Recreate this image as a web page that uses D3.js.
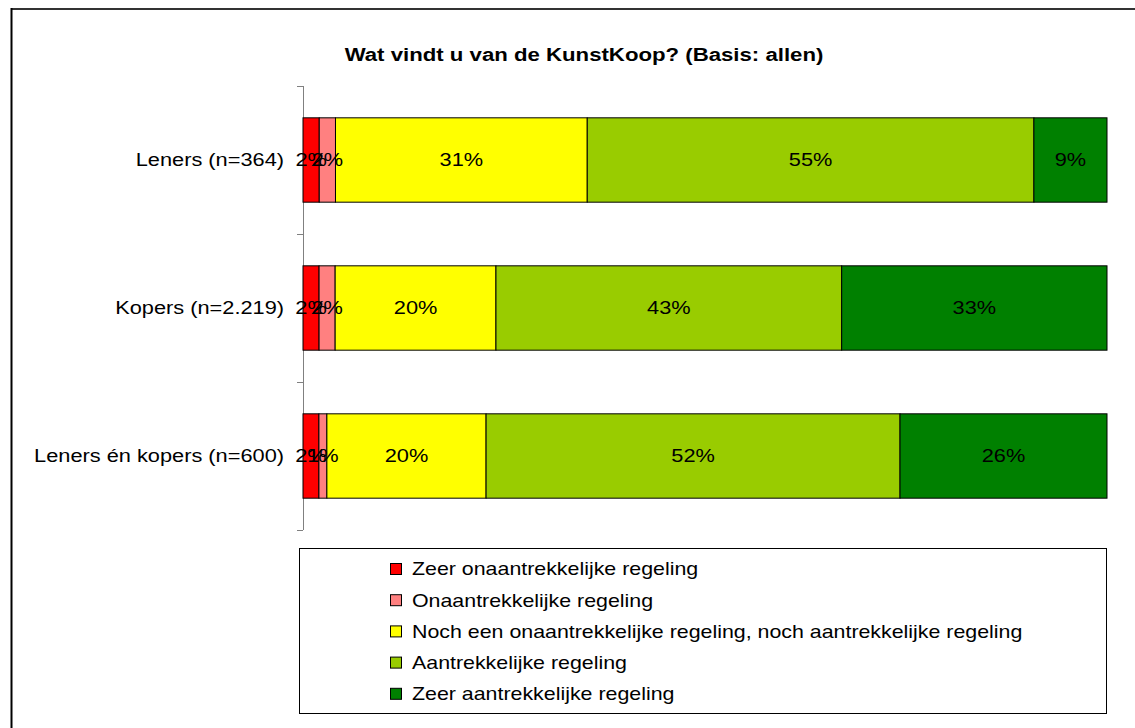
<!DOCTYPE html>
<html>
<head>
<meta charset="utf-8">
<script src="https://cdn.jsdelivr.net/npm/d3@7"></script>
<style>
  html, body { margin: 0; padding: 0; background: #fff; }
  svg { display: block; font-family: "Liberation Sans", Arial, sans-serif; }
</style>
</head>
<body>
<svg id="chart" width="1135" height="728"></svg>
<script>
const title = "Wat vindt u van de KunstKoop? (Basis: allen)";
const categories = ["Leners (n=364)", "Kopers (n=2.219)", "Leners én kopers (n=600)"];
const seriesNames = [
  "Zeer onaantrekkelijke regeling",
  "Onaantrekkelijke regeling",
  "Noch een onaantrekkelijke regeling, noch aantrekkelijke regeling",
  "Aantrekkelijke regeling",
  "Zeer aantrekkelijke regeling"
];
const seriesColors = ["#ff0000", "#ff8080", "#ffff00", "#99cc00", "#008000"];
const zeerOnaantrekkelijk = [2, 2, 2];
const onaantrekkelijk = [2, 2, 1];
const noch = [31, 20, 20];
const aantrekkelijk = [55, 43, 52];
const zeerAantrekkelijk = [9, 33, 26];
const seriesValues = [zeerOnaantrekkelijk, onaantrekkelijk, noch, aantrekkelijk, zeerAantrekkelijk];

const SX = 1.21; // horizontal stretch of the reference's lettering

function stretch(sel, sx) {
  sel.each(function () {
    const t = d3.select(this);
    const tx = +t.attr("x") || 0, ty = +t.attr("y") || 0;
    t.attr("x", 0).attr("y", 0)
     .attr("transform", `translate(${tx},${ty}) scale(${sx},1)`);
  });
}

const svg = d3.select("#chart");

// outer chart border
svg.append("line").attr("x1", 11).attr("x2", 1200).attr("y1", 9).attr("y2", 9)
  .attr("stroke", "#333").attr("stroke-width", 2);
svg.append("line").attr("x1", 11.5).attr("x2", 11.5).attr("y1", 8).attr("y2", 1000)
  .attr("stroke", "#000").attr("stroke-width", 2);

svg.append("text")
  .attr("x", 584).attr("y", 61)
  .attr("text-anchor", "middle")
  .attr("font-weight", "bold").attr("font-size", 18.5)
  .text(title)
  .call(stretch, 1.2);

// build normalized stacked data (100% stacked)
const rows = categories.map((c, i) => {
  const o = { cat: c };
  const total = d3.sum(seriesValues, s => s[i]);
  seriesNames.forEach((n, j) => { o[n] = seriesValues[j][i] / total * 100; o["raw" + j] = seriesValues[j][i]; });
  return o;
});
const stacked = d3.stack().keys(seriesNames)(rows);

const x = d3.scaleLinear().domain([0, 100]).range([303, 1107]);
const y = d3.scaleBand().domain(categories).range([86, 530]).paddingInner(0.43).paddingOuter(0.215);

// axis
const yAxis = d3.axisLeft(y).tickSize(0).tickPadding(19);
const ag = svg.append("g").attr("transform", "translate(303,0)").call(yAxis);
ag.select(".domain").remove();
ag.selectAll("text").attr("font-size", 18).attr("fill", "#000")
  .attr("font-family", "Liberation Sans, Arial, sans-serif")
  .attr("dy", "0.35em")
  .call(stretch, SX);
svg.append("line").attr("x1", 303.5).attr("x2", 303.5).attr("y1", 86).attr("y2", 530)
  .attr("stroke", "#808080").attr("stroke-width", 1);
const bandStep = (530 - 86) / categories.length;
d3.range(categories.length + 1).forEach(i => {
  svg.append("line").attr("x1", 297).attr("x2", 303)
    .attr("y1", 86 + i * bandStep + 0.5).attr("y2", 86 + i * bandStep + 0.5)
    .attr("stroke", "#808080");
});

// bars
const layers = svg.append("g").selectAll("g").data(stacked).join("g")
  .attr("fill", (d, i) => seriesColors[i]);
layers.selectAll("rect").data(d => d).join("rect")
  .attr("x", d => x(d[0]))
  .attr("y", d => y(d.data.cat))
  .attr("width", d => x(d[1]) - x(d[0]))
  .attr("height", y.bandwidth())
  .attr("stroke", "#000").attr("stroke-width", 1);

// labels
const lab = svg.append("g");
stacked.forEach((layer, j) => {
  layer.forEach(d => {
    lab.append("text")
      .attr("x", (x(d[0]) + x(d[1])) / 2)
      .attr("y", y(d.data.cat) + y.bandwidth() / 2)
      .attr("dy", "0.35em")
      .attr("text-anchor", "middle")
      .attr("font-size", 18)
      .text(d.data["raw" + j] + "%")
      .call(stretch, SX);
  });
});

// legend
svg.append("rect").attr("x", 299.5).attr("y", 548.5).attr("width", 807).attr("height", 165)
  .attr("fill", "#fff").attr("stroke", "#000");
const lg = svg.append("g").selectAll("g").data(seriesNames).join("g")
  .attr("transform", (d, i) => `translate(390,${569 + i * 31.2})`);
lg.append("rect").attr("x", 0.5).attr("y", -5.5).attr("width", 11).attr("height", 11)
  .attr("fill", (d, i) => seriesColors[i]).attr("stroke", "#000");
lg.append("text").attr("x", 22).attr("y", 0).attr("dy", "0.35em")
  .attr("font-size", 18).text(d => d)
  .call(stretch, 1.187);
</script>
</body>
</html>
